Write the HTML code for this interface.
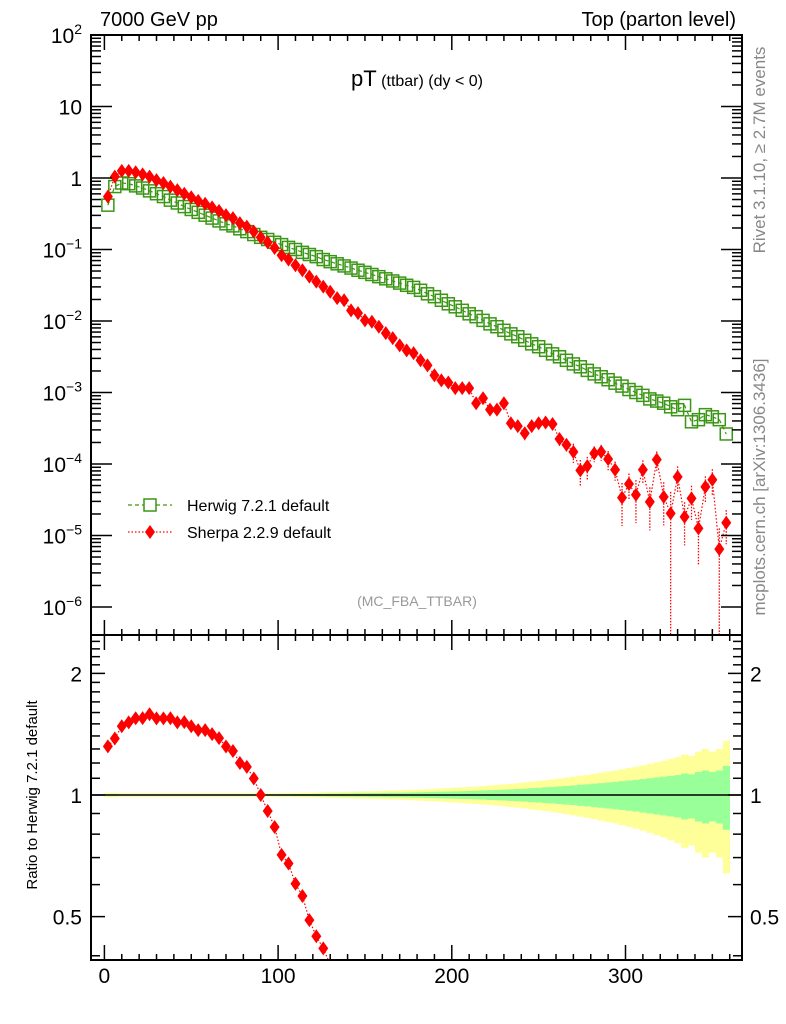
<!DOCTYPE html>
<html><head><meta charset="utf-8"><style>
html,body{margin:0;padding:0;background:#fff;width:786px;height:1024px;overflow:hidden}
svg{display:block;font-family:"Liberation Sans",Arial,sans-serif}
</style></head><body>
<svg id="chart" width="786" height="1024" viewBox="0 0 786 1024" xmlns="http://www.w3.org/2000/svg">
<defs>
<clipPath id="clipMain"><rect x="91" y="35" width="651" height="600"/></clipPath>
<clipPath id="clipRatio"><rect x="91" y="635" width="651" height="325"/></clipPath>
</defs>
<rect x="0" y="0" width="786" height="1024" fill="#fff"/>
<g id="ratioBand" clip-path="url(#clipRatio)"></g>
<g id="mainMarks" clip-path="url(#clipMain)"></g>
<g id="ratioMarks" clip-path="url(#clipRatio)"></g>
<g id="axes"></g>
<text x="100" y="26" font-size="20">7000 GeV pp</text>
<text x="736" y="26" font-size="20" text-anchor="end">Top (parton level)</text>
<text x="417" y="86" text-anchor="middle"><tspan font-size="22">pT</tspan><tspan font-size="16"> (ttbar) (dy &lt; 0)</tspan></text>
<text x="417" y="606" font-size="14" fill="#999" text-anchor="middle">(MC_FBA_TTBAR)</text>
<text transform="translate(765,150) rotate(-90)" font-size="17" fill="#888" text-anchor="middle">Rivet 3.1.10, ≥ 2.7M events</text>
<text transform="translate(765,487) rotate(-90)" font-size="17" fill="#888" text-anchor="middle">mcplots.cern.ch [arXiv:1306.3436]</text>
<text transform="translate(37,795) rotate(-90)" font-size="15" text-anchor="middle">Ratio to Herwig 7.2.1 default</text>
<g>
  <g>
    <line x1="128" y1="505" x2="172" y2="505" stroke="#3a9614" stroke-width="1.3" stroke-dasharray="4,3"/>
    <rect x="144" y="499" width="12" height="12" fill="#fff" stroke="#3a9614" stroke-width="1.5"/>
    <text x="187" y="511" font-size="16">Herwig 7.2.1 default</text>
  </g>
  <g>
    <line x1="128" y1="532" x2="172" y2="532" stroke="#f00" stroke-width="1.3" stroke-dasharray="1.5,2"/>
    <polygon points="150,525 155,532 150,539 145,532" fill="#f00"/>
    <text x="187" y="538" font-size="16">Sherpa 2.2.9 default</text>
  </g>
</g>
</svg>
<script>
const binCenters = [2,6,10,14,18,22,26,30,34,38,42,46,50,54,58,62,66,70,74,78,82,86,90,94,98,102,106,110,114,118,122,126,130,134,138,142,146,150,154,158,162,166,170,174,178,182,186,190,194,198,202,206,210,214,218,222,226,230,234,238,242,246,250,254,258,262,266,270,274,278,282,286,290,294,298,302,306,310,314,318,322,326,330,334,338,342,346,350,354,358];
const herwigValues = [0.417,0.759,0.851,0.832,0.776,0.724,0.661,0.603,0.550,0.490,0.447,0.398,0.363,0.331,0.302,0.275,0.251,0.229,0.214,0.195,0.178,0.162,0.148,0.138,0.126,0.117,0.107,0.100,0.0912,0.0851,0.0794,0.0724,0.0676,0.0631,0.0589,0.0550,0.0513,0.0479,0.0447,0.0417,0.0389,0.0363,0.0339,0.0316,0.0295,0.0269,0.0240,0.0219,0.0195,0.0174,0.0158,0.0141,0.0126,0.0115,0.0102,0.00912,0.00832,0.00741,0.00661,0.00603,0.00537,0.00479,0.00437,0.00389,0.00347,0.00316,0.00282,0.00251,0.00229,0.00204,0.00182,0.00166,0.00151,0.00135,0.00123,0.00110,0.00100,0.000912,0.000813,0.000759,0.000708,0.000631,0.000575,0.000661,0.000389,0.000417,0.000490,0.000457,0.000417,0.000263];
const sherpaValues = [0.550,1.047,1.259,1.259,1.202,1.122,1.047,0.933,0.851,0.759,0.676,0.603,0.537,0.479,0.437,0.389,0.347,0.302,0.275,0.234,0.209,0.178,0.148,0.126,0.105,0.0832,0.0724,0.0603,0.0513,0.0417,0.0355,0.0302,0.0257,0.0209,0.0195,0.0141,0.0129,0.0102,0.00977,0.00832,0.00676,0.00575,0.00457,0.00389,0.00355,0.00282,0.00240,0.00174,0.00148,0.00138,0.00115,0.00115,0.00115,0.000708,0.000832,0.000575,0.000575,0.000708,0.000372,0.000339,0.000269,0.000339,0.000372,0.000380,0.000363,0.000224,0.000186,0.000148,0.0000813,0.0000933,0.000141,0.000148,0.000117,0.0000832,0.0000339,0.0000525,0.0000372,0.0000832,0.0000295,0.000115,0.0000347,0.0000204,0.0000661,0.0000182,0.0000331,0.0000126,0.0000479,0.0000603,0.00000646,0.0000151];
const sherpaRelErr = [0.02,0.02,0.02,0.02,0.02,0.02,0.02,0.02,0.02,0.02,0.02,0.02,0.02,0.02,0.02,0.02,0.02,0.02,0.02,0.02,0.02,0.02,0.02,0.02,0.02,0.02,0.02,0.02,0.02,0.02,0.02,0.02,0.02,0.02,0.02,0.02,0.02,0.02,0.02,0.02,0.04,0.04,0.04,0.04,0.04,0.04,0.04,0.04,0.04,0.04,0.1,0.1,0.12,0.14,0.12,0.18,0.15,0.15,0.18,0.18,0.2,0.18,0.18,0.18,0.18,0.2,0.2,0.3,0.4,0.35,0.25,0.25,0.3,0.3,0.6,0.4,0.6,0.35,0.6,0.3,0.6,1.0,0.4,0.6,0.5,0.7,0.4,0.4,0.95,0.5];
const bandInner = [0.006,0.006,0.004,0.004,0.004,0.004,0.004,0.004,0.004,0.004,0.004,0.004,0.004,0.004,0.004,0.004,0.004,0.004,0.004,0.004,0.004,0.004,0.004,0.004,0.004,0.005,0.005,0.006,0.006,0.006,0.007,0.007,0.008,0.008,0.009,0.009,0.010,0.010,0.011,0.011,0.012,0.013,0.013,0.014,0.015,0.016,0.017,0.018,0.019,0.020,0.021,0.022,0.023,0.025,0.026,0.028,0.029,0.031,0.033,0.035,0.037,0.040,0.042,0.045,0.047,0.050,0.053,0.056,0.060,0.063,0.067,0.070,0.074,0.078,0.082,0.086,0.09,0.095,0.10,0.105,0.11,0.115,0.12,0.13,0.125,0.14,0.15,0.14,0.15,0.18];
const bandOuter = [0.012,0.012,0.01,0.01,0.01,0.01,0.01,0.01,0.01,0.01,0.01,0.01,0.01,0.01,0.01,0.01,0.01,0.01,0.01,0.01,0.01,0.01,0.01,0.01,0.01,0.011,0.011,0.012,0.013,0.013,0.014,0.015,0.016,0.017,0.018,0.019,0.020,0.021,0.022,0.023,0.025,0.026,0.027,0.029,0.030,0.032,0.034,0.036,0.038,0.040,0.042,0.045,0.047,0.050,0.053,0.056,0.059,0.063,0.066,0.070,0.074,0.079,0.083,0.088,0.093,0.098,0.104,0.110,0.116,0.122,0.129,0.136,0.143,0.150,0.158,0.166,0.175,0.184,0.194,0.205,0.215,0.227,0.24,0.26,0.25,0.28,0.30,0.28,0.30,0.36];
const xTickValues = [0,100,200,300];
const mainYDecades = [2,1,0,-1,-2,-3,-4,-5,-6];
const ratioTickValues = [2,1,0.5];
const ratioTickLabels = ["2","1","0.5"];

const NS = "http://www.w3.org/2000/svg";
const X0 = 104.4, XS = 1.737, BW = 4;
const L = 91, R = 742, MT = 35, MB = 635, RB = 960;
const xs = v => X0 + XS * v;
const ym = val => MT + (2 - Math.log10(val)) * 71.5;
const yr = r => 795 - 404 * Math.log10(r);
function mk(tag, attrs, parent) {
  const e = document.createElementNS(NS, tag);
  for (const k in attrs) e.setAttribute(k, attrs[k]);
  parent.appendChild(e);
  return e;
}
const mainG = document.getElementById('mainMarks');
const ratioG = document.getElementById('ratioMarks');
const bandG = document.getElementById('ratioBand');
const axesG = document.getElementById('axes');

binCenters.forEach((v, i) => {
  const x1 = xs(v - BW / 2), w = XS * BW;
  const o = mk('rect', {x: x1, y: yr(1 + bandOuter[i]), width: w + 0.3, height: yr(1 - bandOuter[i]) - yr(1 + bandOuter[i]), fill: '#ffff99'}, bandG);
  
  
});
binCenters.forEach((v, i) => {
  const x1 = xs(v - BW / 2), w = XS * BW;
  const o = mk('rect', {x: x1, y: yr(1 + bandInner[i]), width: w + 0.3, height: yr(1 - bandInner[i]) - yr(1 + bandInner[i]), fill: '#99ff99'}, bandG);
  
  
});
const refLine = mk('line', {x1: L, x2: R, y1: yr(1), y2: yr(1), stroke: '#000', 'stroke-width': 1.5}, bandG);



const hp = mk('polyline', {points: binCenters.map((v, i) => xs(v) + ',' + ym(herwigValues[i])).join(' '), fill: 'none', stroke: '#3a9614', 'stroke-width': 1.2, 'stroke-dasharray': '4,3'}, mainG);


binCenters.forEach((v, i) => {
  const s = mk('rect', {x: xs(v) - 6, y: ym(herwigValues[i]) - 6, width: 12, height: 12, fill: 'none', stroke: '#3a9614', 'stroke-width': 1.5}, mainG);
  
  
});
const sp = mk('polyline', {points: binCenters.map((v, i) => xs(v) + ',' + ym(sherpaValues[i])).join(' '), fill: 'none', stroke: '#f00', 'stroke-width': 1.2, 'stroke-dasharray': '1.5,2'}, mainG);


binCenters.forEach((v, i) => {
  const val = sherpaValues[i], e = sherpaRelErr[i];
  const yTop = ym(val * (1 + e));
  const yBot = (1 - e) > 0.0001 ? ym(val * (1 - e)) : MB + 5;
  if (yBot - yTop > 12) {
    const eb = mk('line', {x1: xs(v), x2: xs(v), y1: yTop, y2: yBot, stroke: '#f00', 'stroke-width': 1.3, 'stroke-dasharray': '1.5,1.5'}, mainG);
    
    
  }
  const x = xs(v), y = ym(val);
  const d = mk('polygon', {points: `${x},${y-7} ${x+5},${y} ${x},${y+7} ${x-5},${y}`, fill: '#f00'}, mainG);
  
  
});
const rp = mk('polyline', {points: binCenters.map((v, i) => xs(v) + ',' + yr(sherpaValues[i] / herwigValues[i])).join(' '), fill: 'none', stroke: '#f00', 'stroke-width': 1.2, 'stroke-dasharray': '1.5,2'}, ratioG);


binCenters.forEach((v, i) => {
  const x = xs(v), y = yr(sherpaValues[i] / herwigValues[i]);
  if (y > RB + 10) return;
  const d = mk('polygon', {points: `${x},${y-7} ${x+5},${y} ${x},${y+7} ${x-5},${y}`, fill: '#f00'}, ratioG);
  
  
});

[[MT, MB], [MB, RB]].forEach(([t, b], k) => {
  const f = mk('rect', {x: L, y: t, width: R - L, height: b - t, fill: 'none', stroke: '#000', 'stroke-width': 2}, axesG);
  
  
});
for (let v = 0; v <= 360; v += 10) {
  const major = xTickValues.includes(v);
  const len = major ? 15 : 6;
  [[MT, 1], [MB, -1], [MB, 1], [RB, -1]].forEach(([y0, dir]) => {
    const t = mk('line', {x1: xs(v), x2: xs(v), y1: y0, y2: y0 + dir * len, stroke: '#000', 'stroke-width': 1.5}, axesG);
    
    
  });
}
xTickValues.forEach(v => {
  const t = mk('text', {x: xs(v), y: 983, 'font-size': 21, 'text-anchor': 'middle'}, axesG);
  t.textContent = String(v);
  
  
});
mainYDecades.forEach(d => {
  for (let m = 1; m <= 9; m++) {
    const val = m * Math.pow(10, d);
    const y = ym(val);
    if (y < MT - 0.5 || y > MB) continue;
    const len = m === 1 ? 21 : 10;
    [[L, 1], [R, -1]].forEach(([x0, dir]) => {
      const t = mk('line', {x1: x0, x2: x0 + dir * len, y1: y, y2: y, stroke: '#000', 'stroke-width': 1.5}, axesG);
      
      
    });
  }
  const y = ym(Math.pow(10, d));
  const t = mk('text', {x: 82, y: y + 8, 'font-size': 21, 'text-anchor': 'end'}, axesG);
  
  
  if (d === 1) t.textContent = '10';
  else if (d === 0) t.textContent = '1';
  else {
    t.appendChild(document.createTextNode('10'));
    const s = mk('tspan', {dy: -9, 'font-size': 14}, t);
    s.textContent = d === 2 ? '2' : '\u2212' + (-d);
  }
});
for (let k = 4; k <= 25; k++) {
  const r = k / 10;
  const y = yr(r);
  if (y < MB || y > RB) continue;
  const len = (k === 5 || k === 10 || k === 20) ? 14 : 9;
  [[L, 1], [R, -1]].forEach(([x0, dir]) => {
    const t = mk('line', {x1: x0, x2: x0 + dir * len, y1: y, y2: y, stroke: '#000', 'stroke-width': 1.5}, axesG);
    
    
  });
}
ratioTickValues.forEach((r, i) => {
  const y = yr(r) + 8;
  const a = mk('text', {x: 82, y: y, 'font-size': 21, 'text-anchor': 'end'}, axesG);
  a.textContent = ratioTickLabels[i];
  
  
  const b = mk('text', {x: 750, y: y, 'font-size': 21}, axesG);
  b.textContent = ratioTickLabels[i];
  
  
});
</script>
</body></html>
